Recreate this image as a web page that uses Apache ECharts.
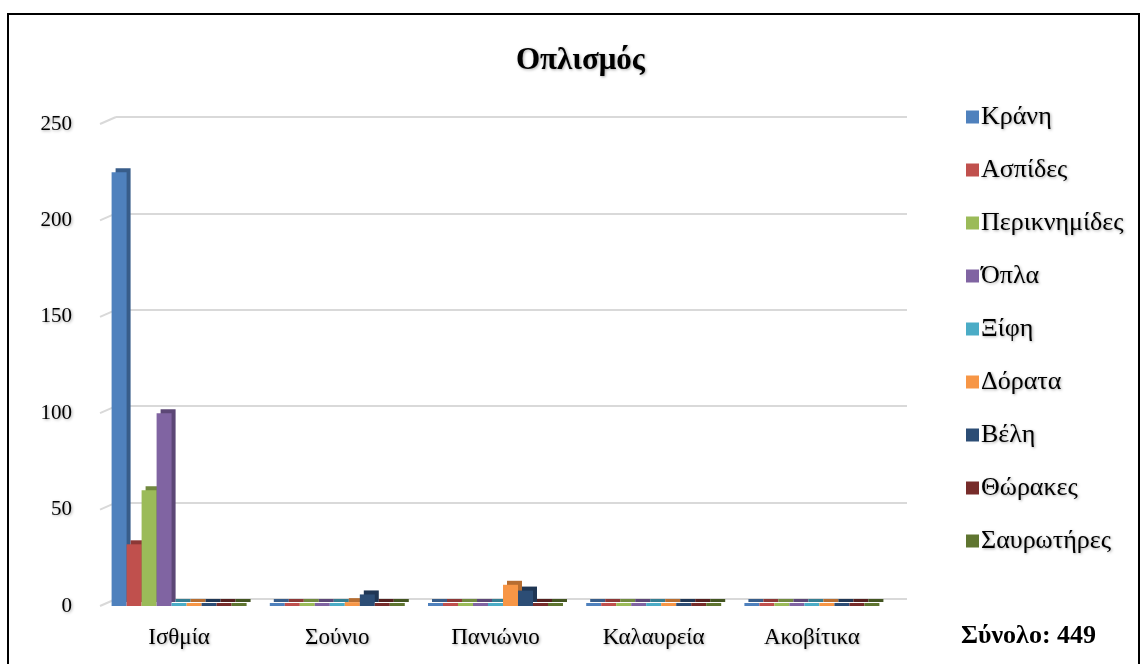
<!DOCTYPE html>
<html>
<head>
<meta charset="utf-8">
<script src="https://cdn.jsdelivr.net/npm/echarts@6/dist/echarts.min.js"></script>
<style>
  html, body { margin: 0; padding: 0; background: #fff; }
  #chart { width: 1141px; height: 664px; }
</style>
</head>
<body>
<div id="chart"></div>
<script>
  // categories (sites)
  const sites = ['Ισθμία', 'Σούνιο', 'Πανιώνιο', 'Καλαυρεία', 'Ακοβίτικα']
  const yTicks = [0, 50, 100, 150, 200, 250]

  // one array per armour type, values per site
  const kranh = [225, 0, 0, 0, 0]
  const aspides = [32, 0, 0, 0, 1]
  const periknhmides = [60, 0, 0, 0, 0]
  const opla = [100, 0, 0, 0, 0]
  const ksifh = [0, 0, 0, 0, 0]
  const dorata = [0, 2, 11, 0, 0]
  const velh = [0, 6, 8, 1, 0]
  const thorakes = [0, 0, 1, 0, 0]
  const saurotires = [0, 0, 1, 1, 0]
  const total = 449

  const seriesDefs = [
    { name: 'Κράνη', data: kranh, color: '#4F81BD', side: '#385D8A' },
    { name: 'Ασπίδες', data: aspides, color: '#C0504D', side: '#8C3836' },
    { name: 'Περικνημίδες', data: periknhmides, color: '#9BBB59', side: '#71893F' },
    { name: 'Όπλα', data: opla, color: '#8064A2', side: '#5C4776' },
    { name: 'Ξίφη', data: ksifh, color: '#4BACC6', side: '#357D91' },
    { name: 'Δόρατα', data: dorata, color: '#F79646', side: '#B66D31' },
    { name: 'Βέλη', data: velh, color: '#2C4D75', side: '#1F3654' },
    { name: 'Θώρακες', data: thorakes, color: '#772C2A', side: '#541F1E' },
    { name: 'Σαυρωτήρες', data: saurotires, color: '#5F7530', side: '#435421' }
  ]

  const serif = '"Liberation Serif", "DejaVu Serif", serif'
  const shadowText = {
    textShadowColor: 'rgba(0,0,0,0.35)',
    textShadowBlur: 3,
    textShadowOffsetX: 1,
    textShadowOffsetY: 1
  }
  // back wall is shifted up/right from the front plane (fake 3D depth)
  const depthX = 16
  const depthY = 7

  const chart = echarts.init(document.getElementById('chart'))
  chart.setOption({
    backgroundColor: '#fff',
    animation: false,
    title: [{
      text: 'Οπλισμός',
      left: 511,
      top: 40,
      textStyle: Object.assign({ fontFamily: serif, fontSize: 31, fontWeight: 'bold', color: '#000' }, shadowText)
    }, {
      text: 'Σύνολο: ' + total,
      left: 956,
      top: 618,
      textStyle: { fontFamily: serif, fontSize: 26, fontWeight: 'bold', color: '#000' }
    }],
    legend: {
      orient: 'vertical',
      left: 961,
      top: 99,
      itemWidth: 13,
      itemHeight: 13,
      itemGap: 27,
      icon: 'rect',
      textStyle: Object.assign({ fontFamily: serif, fontSize: 26, color: '#000', padding: [0, 0, 0, -3] }, shadowText),
      data: seriesDefs.map(s => s.name)
    },
    grid: [{
      // front plane: bars and labels
      left: 100,
      right: 250,
      top: 124,
      bottom: 58
    }, {
      // back wall: grid lines
      left: 100 + depthX,
      right: 250 - depthX,
      top: 124 - depthY,
      bottom: 58 + depthY
    }],
    xAxis: [{
      type: 'category',
      gridIndex: 0,
      data: sites,
      axisLine: { show: false },
      axisTick: { show: false },
      axisLabel: Object.assign({ fontFamily: serif, fontSize: 23, color: '#000', margin: 20 }, shadowText)
    }, {
      type: 'category',
      gridIndex: 1,
      data: sites,
      show: false
    }],
    yAxis: [{
      type: 'value',
      gridIndex: 0,
      min: yTicks[0],
      max: yTicks[yTicks.length - 1],
      interval: 50,
      axisLine: { show: false },
      axisTick: { show: false },
      axisLabel: Object.assign({ fontFamily: serif, fontSize: 21, color: '#000', margin: 28 }, shadowText),
      splitLine: { show: false }
    }, {
      type: 'value',
      gridIndex: 1,
      min: yTicks[0],
      max: yTicks[yTicks.length - 1],
      interval: 50,
      axisLine: { show: false },
      axisTick: { show: false },
      axisLabel: { show: false },
      splitLine: { lineStyle: { color: '#d9d9d9', width: 2 } }
    }],
    series: [{
      // diagonal stubs joining the front labels to the wall lines
      type: 'custom',
      xAxisIndex: 1,
      yAxisIndex: 1,
      silent: true,
      data: yTicks.map(v => [0, v]),
      renderItem: function (params, api) {
        const y = api.coord([0, api.value(1)])[1]
        const x0 = params.coordSys.x
        return {
          type: 'line',
          shape: { x1: x0 - depthX, y1: y + depthY, x2: x0, y2: y },
          style: { stroke: '#d9d9d9', lineWidth: 2 }
        }
      },
      z: 1
    }].concat(seriesDefs.map(s => ({
      name: s.name,
      type: 'bar',
      xAxisIndex: 0,
      yAxisIndex: 0,
      data: s.data,
      barWidth: 15,
      barGap: '0%',
      barMinHeight: 3,
      color: s.color,
      itemStyle: {
        color: s.color,
        shadowColor: s.side,
        shadowBlur: 0,
        shadowOffsetX: 4,
        shadowOffsetY: -4
      },
      z: 3
    }))),
    graphic: [{
      type: 'rect',
      shape: { x: 8, y: 14, width: 1131, height: 670 },
      style: { fill: null, stroke: '#000', lineWidth: 2 },
      silent: true
    }]
  })
</script>
</body>
</html>
